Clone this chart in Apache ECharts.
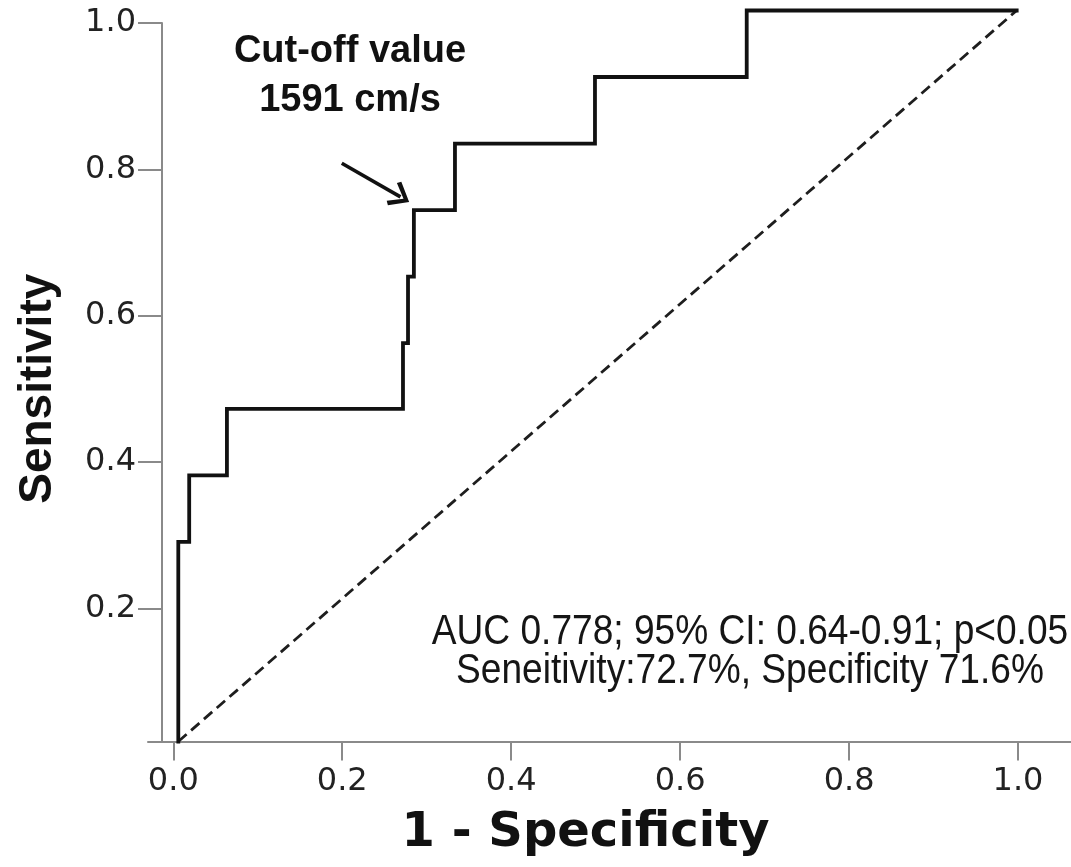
<!DOCTYPE html>
<html>
<head>
<meta charset="utf-8">
<title>ROC curve</title>
<script src="https://cdn.jsdelivr.net/npm/echarts@6/dist/echarts.min.js"></script>
<style>
  html, body { margin: 0; padding: 0; background: #ffffff; }
  #chart { width: 1071px; height: 867px; }
</style>
</head>
<body>
<div id="chart"></div>
<script>
// ROC curve vertices (1 - specificity, sensitivity)
const fpr = [0, 0, 0.013, 0.058, 0.268, 0.274, 0.281, 0.330, 0.497, 0.678, 1];
const tpr = [0, 0.273, 0.364, 0.455, 0.545, 0.636, 0.727, 0.818, 0.909, 1, 1];

// Reference (chance) diagonal
const chanceX = [0, 1];
const chanceY = [0, 1];

// Tick labels
const xTicks = [0, 0.2, 0.4, 0.6, 0.8, 1.0];
const yTicks = [0.2, 0.4, 0.6, 0.8, 1.0];

// Arrow pointing at the chosen cut-off (1 - specificity, sensitivity)
const arrowFrom = [0.195, 0.791];
const arrowTo = [0.265, 0.745];

// Texts
const cutoffText = 'Cut-off value\n1591 cm/s';
const statsText = 'AUC 0.778; 95% CI: 0.64-0.91; p<0.05\nSeneitivity:72.7%, Specificity 71.6%';

const rocData = fpr.map((x, i) => [x, tpr[i]]);
const chanceData = chanceX.map((x, i) => [x, chanceY[i]]);

const axisGray = '#8a8a8a';
const labelColor = '#222222';

const chart = echarts.init(document.getElementById('chart'), null, { renderer: 'canvas' });

chart.setOption({
  animation: false,
  backgroundColor: '#ffffff',
  grid: {
    left: 148, right: 0, top: 23, bottom: 125.5,
    containLabel: false,
    outerBoundsMode: 'none'
  },
  xAxis: [
    {
      // labelled axis
      type: 'value',
      min: -0.02995, max: 1.0627,
      position: 'bottom',
      axisLine: { show: true, onZero: false, lineStyle: { color: axisGray, width: 2 } },
      axisTick: { show: true, customValues: xTicks, length: 19, lineStyle: { color: axisGray, width: 2 } },
      axisLabel: {
        customValues: xTicks, margin: 24,
        formatter: v => v.toFixed(1),
        color: labelColor, fontSize: 32, fontFamily: 'DejaVu Sans'
      },
      splitLine: { show: false },
      name: '1 - Specificity',
      nameLocation: 'middle',
      nameGap: 68,
      nameTextStyle: {
        fontFamily: 'DejaVu Sans', fontWeight: 'bold', fontSize: 48, color: '#111',
        padding: [0, 48, 0, 0]
      }
    },
    {
      // plotting frame of the curve
      type: 'value',
      min: -0.03614, max: 1.0648,
      show: false
    }
  ],
  yAxis: [
    {
      type: 'value',
      min: 0.0179, max: 1.0,
      position: 'left',
      offset: -14,
      axisLine: { show: true, onZero: false, lineStyle: { color: axisGray, width: 2 } },
      axisTick: { show: true, customValues: yTicks, length: 24, lineStyle: { color: axisGray, width: 2 } },
      axisLabel: {
        customValues: yTicks, margin: 26,
        formatter: v => v.toFixed(1),
        color: labelColor, fontSize: 32, fontFamily: 'DejaVu Sans'
      },
      splitLine: { show: false },
      name: 'Sensitivity',
      nameLocation: 'middle',
      nameGap: 101,
      nameTextStyle: {
        fontFamily: 'Liberation Sans', fontWeight: 'bold', fontSize: 46, color: '#111',
        padding: [0, 13, 0, 0]
      }
    },
    {
      type: 'value',
      min: 0, max: 0.9829,
      show: false
    }
  ],
  series: [
    {
      name: 'Chance',
      type: 'line',
      xAxisIndex: 1, yAxisIndex: 1,
      data: chanceData,
      symbol: 'none',
      clip: false,
      silent: true,
      lineStyle: { color: '#1e1e1e', width: 2.8, type: [11, 6] }
    },
    {
      name: 'ROC',
      type: 'line',
      xAxisIndex: 1, yAxisIndex: 1,
      data: rocData,
      step: 'end',
      symbol: 'none',
      clip: false,
      silent: true,
      lineStyle: { color: '#111111', width: 3.8, join: 'miter', cap: 'square' },
      markLine: {
        silent: true,
        animation: false,
        symbol: ['none', 'path://M12.5,0 L25,15.5 L22,18.5 L12.5,6 L3,18.5 L0,15.5 Z'],
        symbolSize: [27, 20],
        label: { show: false },
        lineStyle: { color: '#111111', width: 3.6, type: 'solid' },
        data: [[{ coord: arrowFrom }, { coord: arrowTo }]]
      }
    }
  ],
  graphic: [
    {
      type: 'text',
      x: 350, y: 76,
      silent: true,
      style: {
        text: cutoffText,
        fontFamily: 'Liberation Sans', fontWeight: 'bold', fontSize: 38,
        lineHeight: 49,
        fill: '#111', align: 'center', verticalAlign: 'middle'
      }
    },
    {
      // condensed statistics block
      type: 'text',
      x: 750, y: 652,
      scaleX: 0.863,
      silent: true,
      style: {
        text: statsText,
        fontFamily: 'Liberation Sans', fontSize: 43,
        lineHeight: 39,
        fill: '#151515', align: 'center', verticalAlign: 'middle'
      }
    }
  ]
});
</script>
</body>
</html>
